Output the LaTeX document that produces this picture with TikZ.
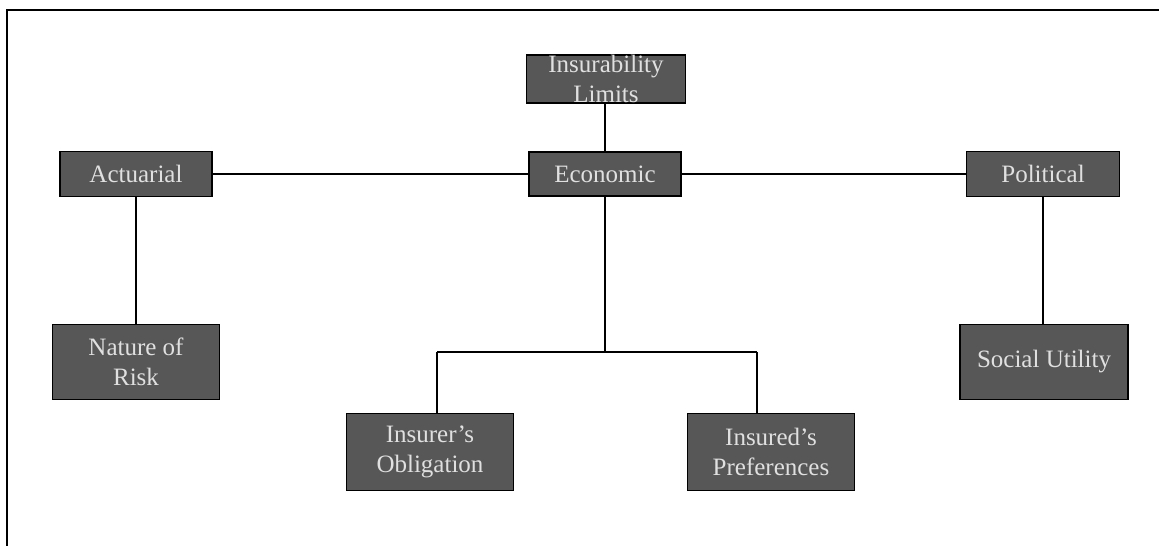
\documentclass[tikz,border=0pt]{standalone}
\usepackage{fontspec}
\setmainfont{Liberation Serif}
\begin{document}
\begin{tikzpicture}[x=1pt,y=-1pt,
  box/.style={draw=black,line width=1.5pt,fill=black!66,text=black!12,
    font=\fontsize{25}{30}\selectfont,align=center,inner sep=0pt,anchor=center},
  conn/.style={line width=1.6pt,draw=black}]
\useasboundingbox (0,0) rectangle (1159,546);
\draw[line width=2.5pt] (7,546) -- (7,10) -- (1159,10);
\node[box,minimum width=159,minimum height=48] (lim) at (606,79) {Insurability\\Limits};
\node[box,minimum width=152,minimum height=44] (eco) at (605,174) {Economic};
\node[box,minimum width=152,minimum height=45] (act) at (136,174) {Actuarial};
\node[box,minimum width=153,minimum height=45] (pol) at (1043,174) {Political};
\node[box,minimum width=167,minimum height=75] (nat) at (136,362) {Nature of\\Risk};
\node[box,minimum width=167,minimum height=77] (ins) at (430,452) {Insurer's\\Obligation};
\node[box,minimum width=167,minimum height=77] (pre) at (771,452) {Insured's\\Preferences};
\node[box,minimum width=168,minimum height=75] (soc) at (1044,362) {Social Utility};
\coordinate (j) at (605,352);
\coordinate (jl) at (437,352);
\coordinate (jr) at (757,352);
\draw[conn] (eco.north) -- (eco.north |- lim.south);
\draw[conn] (act) -- (eco);
\draw[conn] (eco) -- (pol);
\draw[conn] (act) -- (nat);
\draw[conn] (pol.south) -- (pol.south |- soc.north);
\draw[conn] (eco) -- (j);
\draw[conn] (jl) -- (jr);
\draw[conn] (jl) -- (jl |- ins.north);
\draw[conn] (jr) -- (jr |- pre.north);
\end{tikzpicture}
\end{document}
